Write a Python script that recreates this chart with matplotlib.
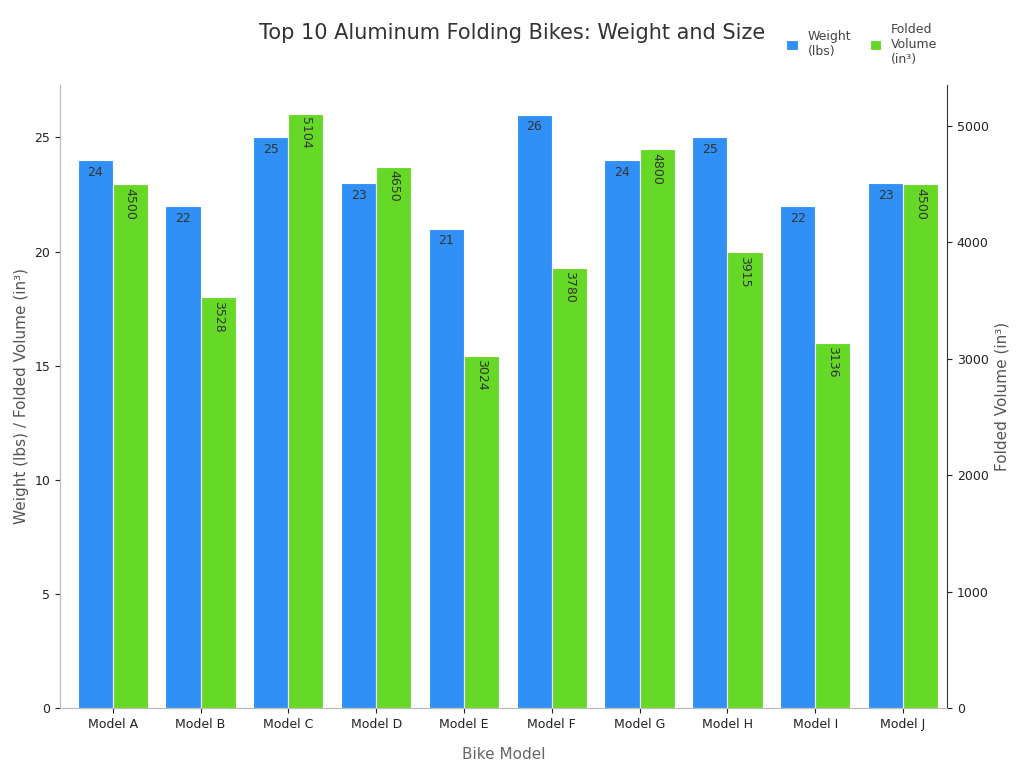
import numpy as np
import matplotlib.pyplot as plt

models = ["Model A", "Model B", "Model C", "Model D", "Model E",
          "Model F", "Model G", "Model H", "Model I", "Model J"]
weight = [24, 22, 25, 23, 21, 26, 24, 25, 22, 23]
volume = [4500, 3528, 5104, 4650, 3024, 3780, 4800, 3915, 3136, 4500]

blue = "#3090F5"
green = "#66D926"

fig = plt.figure(figsize=(10.24, 7.68), dpi=100)
ax = fig.add_axes([60/1024, 60/768, 887/1024, 623/768])
ax2 = ax.twinx()

x = np.arange(len(models))
w = 0.4
b1 = ax.bar(x - w/2, weight, w, color=blue, edgecolor="white", linewidth=0.8, label="Weight\n(lbs)")
b2 = ax2.bar(x + w/2, volume, w, color=green, edgecolor="white", linewidth=0.8, label="Folded\nVolume\n(in³)")

for xi, v in zip(x, weight):
    ax.text(xi - w/2, v - 0.25, str(v), ha="center", va="top", fontsize=9, color="#333333")
for xi, v in zip(x, volume):
    ax2.text(xi + w/2, v - 30, str(v), ha="center", va="top", rotation=-90, fontsize=9, color="#333333")

ax.set_xlim(-0.6, 9.5)
ax.set_ylim(0, 27.3)
ax2.set_ylim(0, 5352)
ax.set_xticks(x)
ax.set_xticklabels(models, fontsize=9)
ax.set_yticks([0, 5, 10, 15, 20, 25])
ax2.set_yticks([0, 1000, 2000, 3000, 4000, 5000])
ax.tick_params(labelsize=9, colors="#222222")
ax2.tick_params(labelsize=9, colors="#222222")

for a in (ax, ax2):
    a.spines["top"].set_visible(False)
    for s in ("left", "right", "bottom"):
        a.spines[s].set_color("#BBBBBB")
ax.spines["right"].set_visible(False)
ax2.spines["right"].set_color("#333333")

ax.set_xlabel("Bike Model", fontsize=11, color="#666666", labelpad=12)
ax.set_ylabel("Weight (lbs) / Folded Volume (in³)", fontsize=11, color="#555555")
ax2.set_ylabel("Folded Volume (in³)", fontsize=11, color="#555555")

fig.text(512/1024, 735/768, "Top 10 Aluminum Folding Bikes: Weight and Size",
         ha="center", va="center", fontsize=15, color="#333333")
fig.legend(handles=[b1, b2], loc="upper left", bbox_to_anchor=(775/1024, 0.985),
           ncol=2, frameon=False, fontsize=9, handlelength=0.9, handleheight=0.9,
           columnspacing=1.5, labelcolor="#444444")

fig.savefig("out.png", dpi=100)
